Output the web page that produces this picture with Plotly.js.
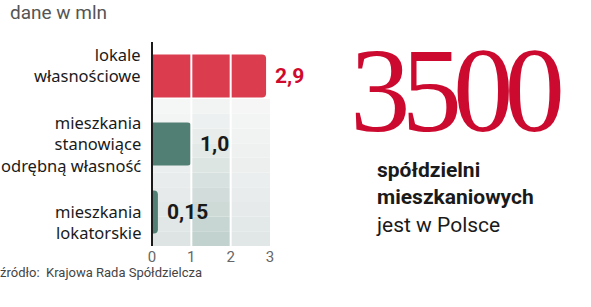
<!DOCTYPE html>
<html><head><meta charset="utf-8">
<script src="https://cdn.plot.ly/plotly-3.0.1.min.js"></script>
<style>html,body{margin:0;padding:0;background:#fff;}#chart{width:591px;height:307px;}</style>
</head><body><div id="chart"></div>
<script>
const categories = ["lokale<br>własnościowe", "mieszkania<br>stanowiące<br>odrębną własność", "mieszkania<br>lokatorskie"];
const values = [2.9, 1.0, 0.15];
const valueLabels = ["2,9", "1,0", "0,15"];
const barColors = ["#dc3d4e", "#527f73", "#527f73"];
const labelColors = ["#cf0a2c", "#1a1a1a", "#1a1a1a"];
const xTicks = [0, 1, 2, 3];
const bigNumber = "3500";
const sideText = ["<b>spółdzielni</b>", "<b>mieszkaniowych</b>", "jest w Polsce"];
const unitNote = "dane w mln";
const sourceNote = "źródło:  Krajowa Rada Spółdzielcza";

const font = "'Noto Sans', 'Open Sans', sans-serif";
const font2 = "Roboto, 'Liberation Sans', sans-serif";

const trace = {
  type: "bar", orientation: "h",
  x: values, y: categories,
  marker: {color: barColors, line: {width: 0}, cornerradius: 4},
  width: 0.63,
  hoverinfo: "skip"
};

const labelShift = [11, 0, -10];
const annotations = categories.map((c, i) => ({
  x: 0, y: c, xref: "x", yref: "y", xanchor: "right", yanchor: "middle", align: "right",
  xshift: -9, yshift: labelShift[i], text: c, showarrow: false,
  font: {family: font, size: 16.5, color: "#1a1a1a"}
}));
values.forEach((v, i) => annotations.push({
  x: v, y: categories[i], xref: "x", yref: "y",
  text: "<b>" + valueLabels[i] + "</b>", showarrow: false,
  xanchor: "left", xshift: 7,
  font: {family: font2, size: 21, color: labelColors[i]}
}));
annotations.push({xref: "paper", yref: "paper", x: -144/118, y: 1 + (42-12)/204, xanchor: "left", yanchor: "middle",
  text: unitNote, showarrow: false, font: {family: font2, size: 19, color: "#555"}});
annotations.push({xref: "paper", yref: "paper", x: -154/118, y: -(272-246)/204, xanchor: "left", yanchor: "middle",
  text: sourceNote, showarrow: false, font: {family: font2, size: 13, color: "#444"}});
annotations.push({xref: "paper", yref: "paper", x: (455-152)/118, y: 1 - (90-42)/204, xanchor: "center", yanchor: "middle",
  text: '<span style="letter-spacing:-9px">' + bigNumber + '</span>', showarrow: false,
  font: {family: "'Liberation Serif', serif", size: 121, color: "#cc0a2f"}});
annotations.push({xref: "paper", yref: "paper", x: (374-152)/118, y: 1 - (197-42)/204, xanchor: "left", yanchor: "middle", align: "left",
  text: sideText.join("<br>"), showarrow: false, font: {family: font2, size: 21, color: "#1a1a1a"}});

// background columns with a vertical fade (white at top -> grey at bottom)
const bandBase = [[221,227,227],[191,208,204],[224,230,230]];
const steps = 10, bandTop = 0.72;
const shapes = [];
for (let s = 0; s < steps; s++) {
  const t = (s + 0.5) / steps; // 0 at bottom
  for (let b = 0; b < 3; b++) {
    const c = bandBase[b].map(v => Math.round(v + (248 - v) * t * 0.95));
    shapes.push({type: "rect", xref: "x", yref: "paper", x0: b, x1: b + 1,
      y0: bandTop * s / steps, y1: bandTop * (s + 1) / steps,
      fillcolor: `rgb(${c.join(",")})`, line: {width: 0}, layer: "below"});
  }
}
shapes.push({type: "line", xref: "x", yref: "paper", x0: 1, x1: 1, y0: 0, y1: 0.95, line: {color: "#ffffff", width: 2}, layer: "above"});
shapes.push({type: "line", xref: "x", yref: "paper", x0: 2, x1: 2, y0: 0, y1: 0.95, line: {color: "#ffffff", width: 2}, layer: "above"});
shapes.push({type: "line", xref: "paper", yref: "paper", x0: 0, x1: 0, y0: 0, y1: 1, line: {color: "#1a1a1a", width: 2}, layer: "above"});

const layout = {
  width: 591, height: 307,
  margin: {l: 152, r: 321, t: 42, b: 61, pad: 0},
  paper_bgcolor: "#ffffff", plot_bgcolor: "rgba(0,0,0,0)",
  showlegend: false,
  xaxis: {range: [0, 3], tickvals: xTicks, ticktext: xTicks.map(String), showgrid: false, zeroline: false,
    showline: false, ticks: "", tickfont: {family: font2, size: 15, color: "#666"}, fixedrange: true},
  yaxis: {autorange: "reversed", showgrid: false, zeroline: false, showline: false, ticks: "",
    showticklabels: false, fixedrange: true},
  shapes: shapes,
  annotations: annotations
};

Plotly.newPlot("chart", [trace], layout, {displayModeBar: false, staticPlot: true});
</script></body></html>
